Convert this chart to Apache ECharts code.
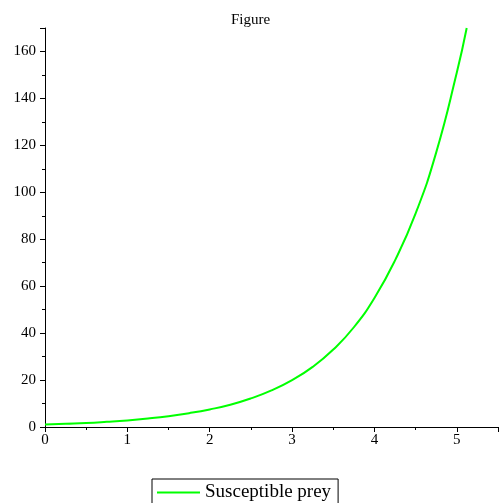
<!DOCTYPE html>
<html><head><meta charset="utf-8">
<script src="https://cdn.jsdelivr.net/npm/echarts@6/dist/echarts.min.js"></script>
<style>html,body{margin:0;padding:0;background:#fff}#c{width:501px;height:503px}</style>
</head><body><div id="c"></div>
<script>
var xValues = [0, 0.25, 0.5, 0.75, 1, 1.25, 1.5, 1.75, 2, 2.25, 2.5, 2.75, 3, 3.25, 3.5, 3.75, 4, 4.25, 4.5, 4.75, 5, 5.12];
var preyValues = [1.1, 1.4, 1.7, 2.2, 2.8, 3.6, 4.6, 5.9, 7.5, 9.5, 12.2, 15.6, 20, 25.6, 33, 42.5, 55, 71, 91, 117, 151, 170];
var seriesName = 'Susceptible prey';
var titleText = 'Figure';

var data = xValues.map(function (x, i) { return [x, preyValues[i]]; });
var font = 'Liberation Serif';
var chart = echarts.init(document.getElementById('c'), null, {renderer: 'canvas'});
chart.setOption({
  animation: false,
  backgroundColor: '#fff',
  title: {text: titleText, left: 'center', top: 8, textStyle: {fontFamily: font, fontSize: 15, fontWeight: 'normal', color: '#000'}},
  legend: {
    top: 479, left: 152,
    data: [seriesName],
    itemWidth: 43, itemHeight: 2, itemGap: 6,
    icon: 'rect',
    borderColor: '#000', borderWidth: 1, padding: [4, 7, 8, 5],
    textStyle: {fontFamily: font, fontSize: 19, color: '#000'}
  },
  grid: {left: 45, right: 3, top: 28, bottom: 76, containLabel: false},
  xAxis: {
    type: 'value', min: 0, max: 5.5, interval: 1,
    axisLine: {lineStyle: {color: '#000', width: 1}},
    axisTick: {length: 5, lineStyle: {color: '#000'}},
    minorTick: {show: true, splitNumber: 2, length: 3, lineStyle: {color: '#000'}},
    splitLine: {show: false},
    axisLabel: {fontFamily: font, fontSize: 15, color: '#000', margin: 6, showMaxLabel: false}
  },
  yAxis: {
    type: 'value', min: 0, max: 170, interval: 20,
    axisLine: {show: true, lineStyle: {color: '#000', width: 1}},
    axisTick: {show: true, length: 5, lineStyle: {color: '#000'}},
    minorTick: {show: true, splitNumber: 2, length: 3, lineStyle: {color: '#000'}},
    splitLine: {show: false},
    axisLabel: {fontFamily: font, fontSize: 15, color: '#000', margin: 9, showMaxLabel: false}
  },
  series: [{
    name: seriesName, type: 'line', data: data, smooth: true,
    showSymbol: false, lineStyle: {color: '#00ff00', width: 2}, itemStyle: {color: '#00ff00'}
  }]
});
</script></body></html>
